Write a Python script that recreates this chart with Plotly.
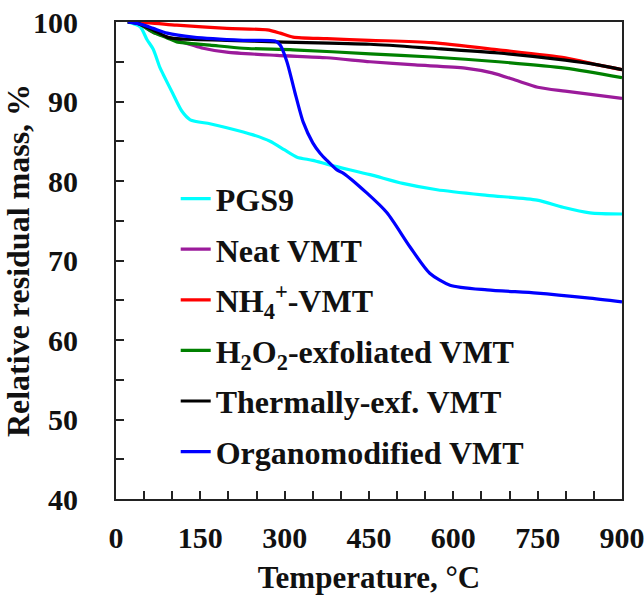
import plotly.graph_objects as go

# TGA curves: temperature (°C) and relative residual mass (%)
pgs9_t = [21, 43, 55, 66, 78, 84, 101, 117, 132, 167, 197, 244, 274, 300, 322, 350, 381, 452, 510, 571, 660, 749, 795, 843, 900]
pgs9_m = [100.0, 99.4, 97.8, 96.6, 94.3, 93.4, 91.0, 88.8, 87.7, 87.2, 86.7, 85.8, 85.0, 83.9, 83.0, 82.6, 82.0, 80.8, 79.7, 78.9, 78.2, 77.6, 76.7, 76.0, 75.85]

neat_t = [21, 40, 66, 91, 108, 155, 197, 286, 375, 452, 532, 621, 669, 710, 750, 799, 900]
neat_m = [100.0, 99.8, 98.7, 98.1, 97.7, 96.7, 96.2, 95.8, 95.5, 95.0, 94.6, 94.2, 93.6, 92.7, 91.8, 91.3, 90.4]

nh4_t = [21, 60, 108, 197, 269, 292, 315, 375, 452, 562, 680, 799, 857, 900]
nh4_m = [100.0, 99.9, 99.6, 99.2, 99.0, 98.6, 98.1, 97.9, 97.7, 97.4, 96.5, 95.5, 94.6, 94.0]

h2o2_t = [21, 40, 66, 91, 108, 167, 226, 315, 452, 562, 680, 799, 900]
h2o2_m = [100.0, 99.8, 98.7, 98.0, 97.5, 97.1, 96.7, 96.5, 96.0, 95.6, 95.0, 94.2, 93.0]

therm_t = [21, 40, 66, 91, 108, 197, 286, 452, 562, 680, 799, 857, 900]
therm_m = [100.0, 99.8, 99.0, 98.1, 97.9, 97.7, 97.5, 97.2, 96.7, 96.1, 95.2, 94.6, 94.0]

organo_t = [21, 45, 66, 91, 137, 226, 283, 292, 304, 318, 333, 350, 363, 375, 393, 404, 446, 482, 523, 558, 594, 660, 749, 838, 900]
organo_m = [100.0, 99.7, 99.2, 98.6, 98.1, 97.7, 97.6, 97.1, 95.0, 91.2, 87.4, 84.8, 83.5, 82.6, 81.4, 81.0, 78.5, 76.0, 71.7, 68.4, 66.9, 66.3, 65.9, 65.3, 64.8]

series = [
    ("PGS9", pgs9_t, pgs9_m, "#00FFFF"),
    ("Neat VMT", neat_t, neat_m, "#9B1B9B"),
    ("NH<sub>4</sub><sup>+</sup>-VMT", nh4_t, nh4_m, "#FF0000"),
    ("H<sub>2</sub>O<sub>2</sub>-exfoliated VMT", h2o2_t, h2o2_m, "#008000"),
    ("Thermally-exf. VMT", therm_t, therm_m, "#000000"),
    ("Organomodified VMT", organo_t, organo_m, "#0000FF"),
]

x_ticks = [0, 150, 300, 450, 600, 750, 900]
y_ticks = [40, 50, 60, 70, 80, 90, 100]

FONT = "Liberation Serif"

fig = go.Figure()
for i, (name, t, m, color) in enumerate(series):
    fig.add_trace(go.Scatter(
        x=t, y=m, name=name, mode="lines", legendgroup=f"g{i}",
        line=dict(color=color, width=3.2, shape="spline", smoothing=0.7),
    ))

axis_common = dict(
    showline=True, linecolor="#222222", linewidth=2, mirror=True,
    ticks="inside", ticklen=8, tickwidth=1.5, tickcolor="#222222",
    showgrid=False, zeroline=False, automargin=False,
    ticklabeloverflow="allow",
    tickfont=dict(family=FONT, size=30, color="#111111", weight="bold"),
)

fig.update_xaxes(
    range=[0, 900], tickvals=x_ticks, ticktext=[str(v) for v in x_ticks],
    minor=dict(dtick=50, tick0=0, ticks="inside", ticklen=8, tickwidth=1.5, tickcolor="#222222", showgrid=False),
    ticklabelstandoff=11,
    title=dict(text="Temperature, °C", font=dict(family=FONT, size=31, color="#111111", weight="bold"), standoff=20),
    **axis_common,
)
fig.update_yaxes(
    range=[40, 100], tickvals=y_ticks, ticktext=[str(v) for v in y_ticks],
    minor=dict(dtick=5, tick0=40, ticks="inside", ticklen=8, tickwidth=1.5, tickcolor="#222222", showgrid=False),
    ticklabelstandoff=30,
    title=dict(text="Relative residual mass, %", font=dict(family=FONT, size=32, color="#111111", weight="bold"), standoff=0),
    **axis_common,
)

fig.update_layout(
    width=644, height=595,
    margin=dict(l=116, r=22, t=22, b=96),
    paper_bgcolor="white", plot_bgcolor="white",
    showlegend=True,
    legend=dict(
        x=0.118, y=0.687, xanchor="left", yanchor="top",
        bgcolor="rgba(0,0,0,0)", traceorder="grouped", tracegroupgap=6,
        font=dict(family=FONT, size=32, color="#111111", weight="bold"),
    ),
)

fig.write_html("out.html")
